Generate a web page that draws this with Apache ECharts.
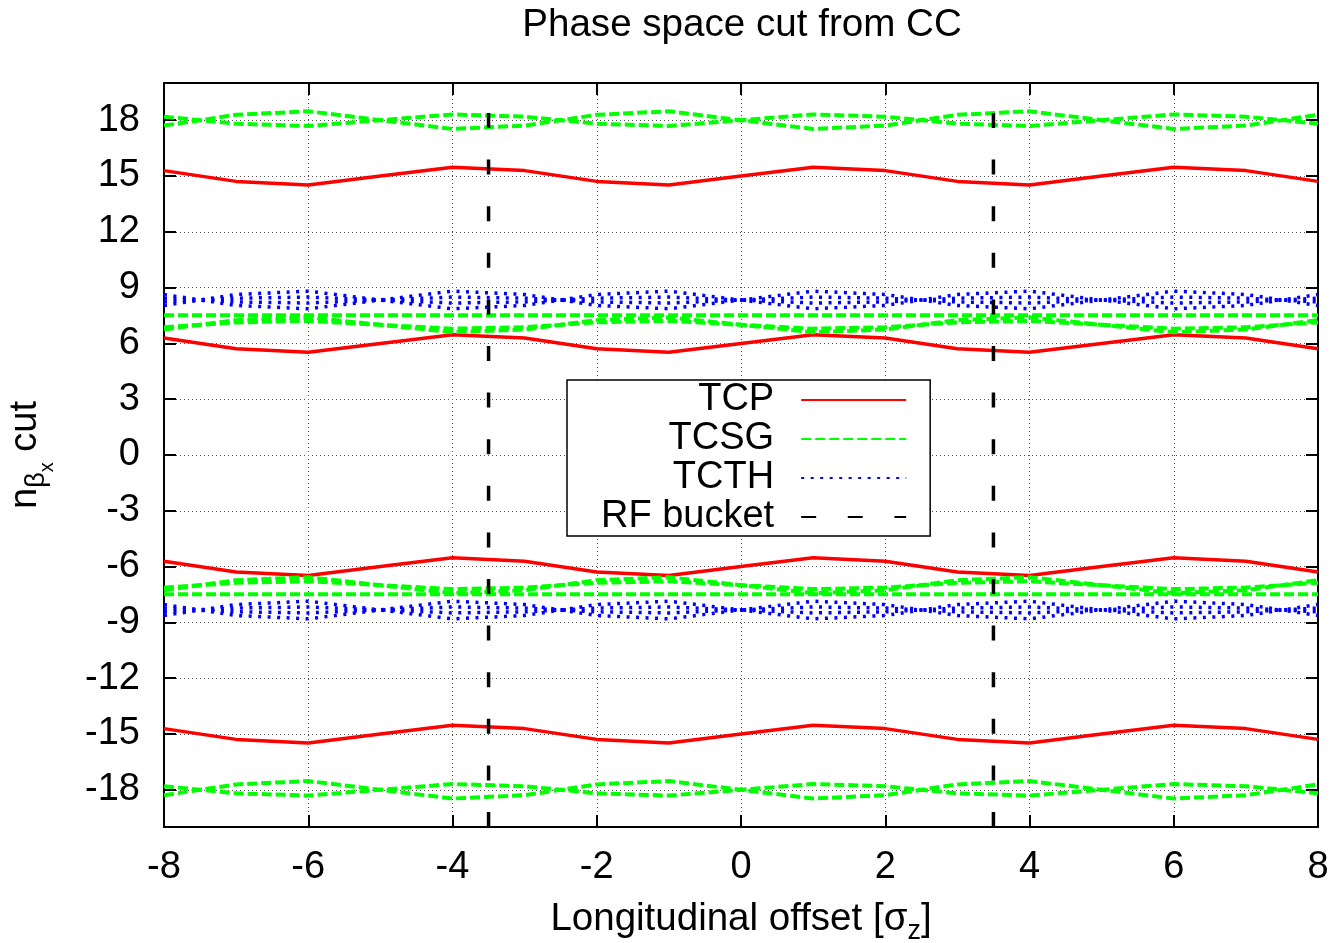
<!DOCTYPE html>
<html><head><meta charset="utf-8">
<script src="https://cdn.jsdelivr.net/npm/echarts@6/dist/echarts.min.js"></script>
<style>html,body{margin:0;padding:0;background:#fff}#c{width:1338px;height:943px}</style>
</head><body><div id="c"></div>
<script>
// ---- data ----
const xs = [-8,-7,-6,-5,-4,-3,-2,-1,0,1,2,3,4,5,6,7,8];
const xTicks = [-8,-6,-4,-2,0,2,4,6,8];
const yTicks = [-18,-15,-12,-9,-6,-3,0,3,6,9,12,15,18];
const yRange = [-20, 20];
const rfX = [-3.5, 3.5];

const tcpTop    = [15.29,14.71,14.52,15.00,15.47,15.29,14.71,14.52,15.00,15.47,15.29,14.71,14.52,15.00,15.47,15.29,14.71];
const tcpUp     = [6.29,5.71,5.52,6.00,6.47,6.29,5.71,5.52,6.00,6.47,6.29,5.71,5.52,6.00,6.47,6.29,5.71];
const tcpLow    = [-5.71,-6.29,-6.48,-6.00,-5.53,-5.71,-6.29,-6.48,-6.00,-5.53,-5.71,-6.29,-6.48,-6.00,-5.53,-5.71,-6.29];
const tcpBottom = [-14.71,-15.29,-15.48,-15.00,-14.53,-14.71,-15.29,-15.48,-15.00,-14.53,-14.71,-15.29,-15.48,-15.00,-14.53,-14.71,-15.29];

const tcsgTopA    = [17.71,18.29,18.48,18.00,17.53,17.71,18.29,18.48,18.00,17.53,17.71,18.29,18.48,18.00,17.53,17.71,18.29];
const tcsgTopB    = [18.19,17.81,17.69,18.00,18.31,18.19,17.81,17.69,18.00,18.31,18.19,17.81,17.69,18.00,18.31,18.19,17.81];
const tcsgUpA     = [6.75,7.25,7.40,7.00,6.60,6.75,7.25,7.40,7.00,6.60,6.75,7.25,7.40,7.00,6.60,6.75,7.25];
const tcsgUpB     = [6.87,7.13,7.21,7.00,6.79,6.87,7.13,7.21,7.00,6.79,6.87,7.13,7.21,7.00,6.79,6.87,7.13];
const tcsgUpFlat  = [7.52,7.52,7.52,7.52,7.52,7.52,7.52,7.52,7.52,7.52,7.52,7.52,7.52,7.52,7.52,7.52,7.52];
const tcsgLowA    = [-7.27,-6.73,-6.57,-7.00,-7.43,-7.27,-6.73,-6.57,-7.00,-7.43,-7.27,-6.73,-6.57,-7.00,-7.43,-7.27,-6.73];
const tcsgLowB    = [-7.13,-6.87,-6.79,-7.00,-7.21,-7.13,-6.87,-6.79,-7.00,-7.21,-7.13,-6.87,-6.79,-7.00,-7.21,-7.13,-6.87];
const tcsgLowFlat = [-7.48,-7.48,-7.48,-7.48,-7.48,-7.48,-7.48,-7.48,-7.48,-7.48,-7.48,-7.48,-7.48,-7.48,-7.48,-7.48,-7.48];
const tcsgBotA    = [-18.29,-17.71,-17.53,-18.00,-18.47,-18.29,-17.71,-17.53,-18.00,-18.47,-18.29,-17.71,-17.53,-18.00,-18.47,-18.29,-17.71];
const tcsgBotB    = [-17.81,-18.19,-18.31,-18.00,-17.69,-17.81,-18.19,-18.31,-18.00,-17.69,-17.81,-18.19,-18.31,-18.00,-17.69,-17.81,-18.19];

const tcthUp1  = [8.63,8.04,7.86,8.33,8.81,8.63,8.04,7.86,8.33,8.81,8.63,8.04,7.86,8.33,8.81,8.63,8.04];
const tcthUp2  = [8.43,8.23,8.17,8.33,8.49,8.43,8.23,8.17,8.33,8.49,8.43,8.23,8.17,8.33,8.49,8.43,8.23];
const tcthUp3  = [8.23,8.43,8.49,8.33,8.17,8.23,8.43,8.49,8.33,8.17,8.23,8.43,8.49,8.33,8.17,8.23,8.43];
const tcthUp4  = [8.04,8.63,8.81,8.33,7.86,8.04,8.63,8.81,8.33,7.86,8.04,8.63,8.81,8.33,7.86,8.04,8.63];
const tcthLow1 = [-8.63,-8.04,-7.86,-8.33,-8.81,-8.63,-8.04,-7.86,-8.33,-8.81,-8.63,-8.04,-7.86,-8.33,-8.81,-8.63,-8.04];
const tcthLow2 = [-8.43,-8.23,-8.17,-8.33,-8.49,-8.43,-8.23,-8.17,-8.33,-8.49,-8.43,-8.23,-8.17,-8.33,-8.49,-8.43,-8.23];
const tcthLow3 = [-8.23,-8.43,-8.49,-8.33,-8.17,-8.23,-8.43,-8.49,-8.33,-8.17,-8.23,-8.43,-8.49,-8.33,-8.17,-8.23,-8.43];
const tcthLow4 = [-8.04,-8.63,-8.81,-8.33,-7.86,-8.04,-8.63,-8.81,-8.33,-7.86,-8.04,-8.63,-8.81,-8.33,-7.86,-8.04,-8.63];

// ---- chart ----
const FONT = "'Liberation Sans', Arial, Helvetica, sans-serif";
const pairs = arr => xs.map((x, i) => [x, arr[i]]);
const styles = {
  'TCP':  { color: '#ff0000', width: 3.5, type: 'solid' },
  'TCSG': { color: '#00ff00', width: 4, type: [10, 4] },
  'TCTH': { color: '#0000ff', width: 3.5, type: [3, 6.5] },
  'RF bucket': { color: '#000000', width: 3.5, type: [15, 31.6] }
};
function mk(name, data) {
  const s = styles[name];
  return {
    name, type: 'line', data, symbol: 'none', showSymbol: false, animation: false,
    lineStyle: { color: s.color, width: s.width, type: s.type, cap: 'butt' },
    itemStyle: { color: s.color, opacity: 0 }, emphasis: { disabled: true }, z: 3
  };
}
const series = [];
[tcpTop, tcpUp, tcpLow, tcpBottom].forEach(a => series.push(mk('TCP', pairs(a))));
[tcsgTopA, tcsgTopB, tcsgUpA, tcsgUpB, tcsgUpFlat, tcsgLowA, tcsgLowB, tcsgLowFlat, tcsgBotA, tcsgBotB]
  .forEach(a => series.push(mk('TCSG', pairs(a))));
[tcthUp1, tcthUp2, tcthUp3, tcthUp4, tcthLow1, tcthLow2, tcthLow3, tcthLow4]
  .forEach(a => series.push(mk('TCTH', pairs(a))));
rfX.forEach(x => series.push(mk('RF bucket', [[x, yRange[0]], [x, yRange[1]]])));

const axisLine = { show: true, onZero: false, lineStyle: { color: '#000', width: 2 } };
const tick = { show: true, inside: true, length: 12, lineStyle: { color: '#000', width: 2 } };
const grid = { color: '#555', width: 1, type: [1, 3] };

const chart = echarts.init(document.getElementById('c'), null, { renderer: 'canvas' });
chart.setOption({
  backgroundColor: '#fff',
  animation: false,
  title: {
    text: 'Phase space cut from CC', left: 737, top: 1, textAlign: 'center',
    textStyle: { fontFamily: FONT, fontSize: 38.6, fontWeight: 'normal', color: '#000' }
  },
  legend: {
    data: ['TCP', 'TCSG', 'TCTH', 'RF bucket'],
    orient: 'vertical', align: 'right', left: 567, top: 380,
    itemWidth: 105, itemHeight: 20, itemGap: 1,
    padding: [1, 23, 0, 34], borderColor: '#000', borderWidth: 1.5, backgroundColor: '#fff',
    selectedMode: false,
    itemStyle: { opacity: 0 },
    textStyle: { fontFamily: FONT, fontSize: 38, color: '#000', padding: [0, 22, 0, 0] }
  },
  grid: { left: 164, right: 20, top: 83, bottom: 116, containLabel: false, outerBoundsMode: 'none' },
  xAxis: [{
    type: 'value', min: xTicks[0], max: xTicks[xTicks.length - 1], interval: 2, position: 'bottom',
    axisLine, axisTick: tick,
    axisLabel: { fontFamily: FONT, fontSize: 38, color: '#000', margin: 22, showMinLabel: true, showMaxLabel: true },
    splitLine: { show: true, lineStyle: grid },
    name: '{a|Longitudinal offset [σ}{s|z}{a|]}', nameLocation: 'middle', nameGap: 67,
    nameTextStyle: { fontFamily: FONT, color: '#000', rich: {
      a: { fontFamily: FONT, fontSize: 38.5, color: '#000' },
      s: { fontFamily: FONT, fontSize: 27, padding: [24, 0, 0, 0], color: '#000' } } }
  }, {
    type: 'value', min: xTicks[0], max: xTicks[xTicks.length - 1], interval: 2, position: 'top',
    axisLine, axisTick: tick, axisLabel: { show: false }, splitLine: { show: false }
  }],
  yAxis: [{
    type: 'value', min: yRange[0], max: yRange[1], position: 'left',
    axisLine, axisTick: Object.assign({ customValues: yTicks }, tick),
    axisLabel: { customValues: yTicks, fontFamily: FONT, fontSize: 38, color: '#000', margin: 24 },
    splitLine: { show: true, lineStyle: grid },
    name: '{n|n}{b|β}{x|x}{c| cut}', nameLocation: 'middle', nameGap: 107,
    nameTextStyle: { fontFamily: FONT, color: '#000', rich: {
      n: { fontFamily: FONT, fontSize: 38, color: '#000' },
      b: { fontFamily: FONT, fontSize: 27, padding: [22, 0, 0, 0], color: '#000' },
      x: { fontFamily: FONT, fontSize: 20, padding: [42, 0, 0, 0], color: '#000' },
      c: { fontFamily: FONT, fontSize: 38, color: '#000' } } }
  }, {
    type: 'value', min: yRange[0], max: yRange[1], position: 'right',
    axisLine, axisTick: Object.assign({ customValues: yTicks }, tick),
    axisLabel: { show: false }, splitLine: { show: false }
  }],
  series
});
</script></body></html>
